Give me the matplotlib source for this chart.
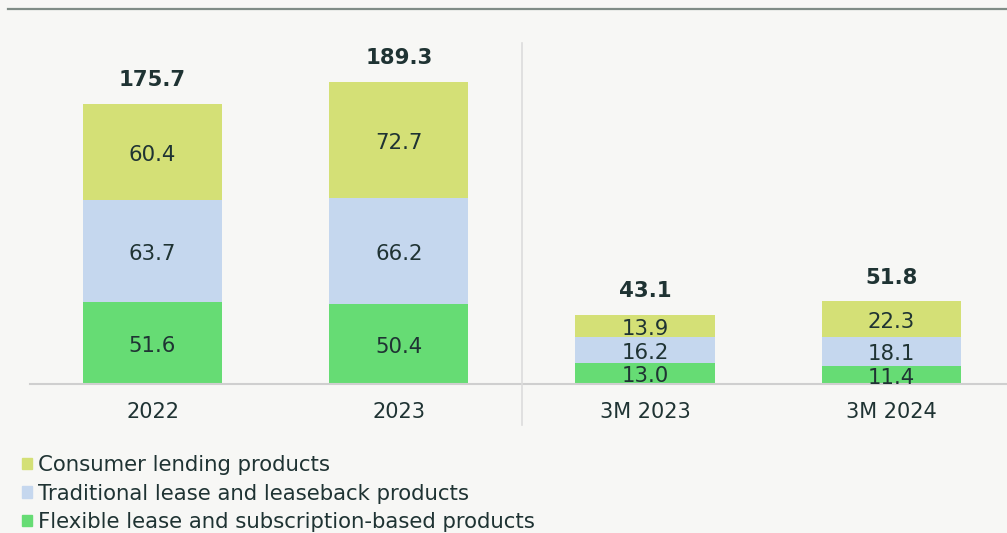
import matplotlib
matplotlib.use("Agg")
import matplotlib.pyplot as plt
from matplotlib.patches import Patch
from matplotlib.lines import Line2D

categories = ["2022", "2023", "3M 2023", "3M 2024"]
flexible = [51.6, 50.4, 13.0, 11.4]
traditional = [63.7, 66.2, 16.2, 18.1]
consumer = [60.4, 72.7, 13.9, 22.3]
totals = [175.7, 189.3, 43.1, 51.8]
series_names = ["Consumer lending products",
                "Traditional lease and leaseback products",
                "Flexible lease and subscription-based products"]

BG = "#f7f7f5"
TXT = "#1f3333"
C_FLEX = "#66dc74"
C_TRAD = "#c5d7ee"
C_CONS = "#d4e076"

W, H = 1007, 533
fig = plt.figure(figsize=(W / 100, H / 100), dpi=100, facecolor=BG)
ax = fig.add_axes([30 / W, (H - 384) / H, 977 / W, (384 - 43) / H])
ax.set_facecolor(BG)

x = list(range(len(categories)))
bw = 0.565
b1 = ax.bar(x, flexible, width=bw, color=C_FLEX)
bottom2 = flexible
b2 = ax.bar(x, traditional, width=bw, bottom=bottom2, color=C_TRAD)
bottom3 = [a + b for a, b in zip(flexible, traditional)]
b3 = ax.bar(x, consumer, width=bw, bottom=bottom3, color=C_CONS)

for bars, vals in ((b1, flexible), (b2, traditional), (b3, consumer)):
    labs = ax.bar_label(bars, labels=[f"{v:.1f}" for v in vals], label_type="center",
                        fontsize=15.3, color=TXT)
    for lab in labs:
        lab.set_y(lab.get_position()[1] - 2)

tops = [a + b for a, b in zip(bottom3, consumer)]
for xi, t, tot in zip(x, tops, totals):
    ax.annotate(f"{tot:.1f}", (xi, t), xytext=(0, 10), textcoords="offset points",
                ha="center", va="bottom", fontsize=15.3, fontweight="bold", color=TXT)

ax.set_xlim(-0.4976, 3.47)
ax.set_ylim(0, 213.9)
ax.set_xticks(x)
ax.set_xticklabels(categories, fontsize=15, color=TXT)
ax.tick_params(axis="x", length=0, pad=13)
ax.set_yticks([])
for s in ("top", "right", "left"):
    ax.spines[s].set_visible(False)
ax.spines["bottom"].set_color("#cfcfcf")
ax.spines["bottom"].set_linewidth(1.5)

# separator and top rule
fig.add_artist(Line2D([522 / W, 522 / W], [(H - 43) / H, (H - 425) / H],
                      color="#dcdcdc", lw=1.2))
fig.add_artist(Line2D([8 / W, 1.0], [(H - 9) / H, (H - 9) / H],
                      color="#7f8c86", lw=1.6))

handles = [Patch(color=C_CONS), Patch(color=C_TRAD), Patch(color=C_FLEX)]
leg = fig.legend(handles, series_names, loc="upper left",
                 bbox_to_anchor=(22 / W, (H - 455) / H), frameon=False,
                 fontsize=15.3, handlelength=0.47, handleheight=0.47,
                 handletextpad=0.28, labelspacing=0.4, borderaxespad=0,
                 borderpad=0)
for t in leg.get_texts():
    t.set_color(TXT)

fig.savefig("out.png", dpi=100, facecolor=BG)
